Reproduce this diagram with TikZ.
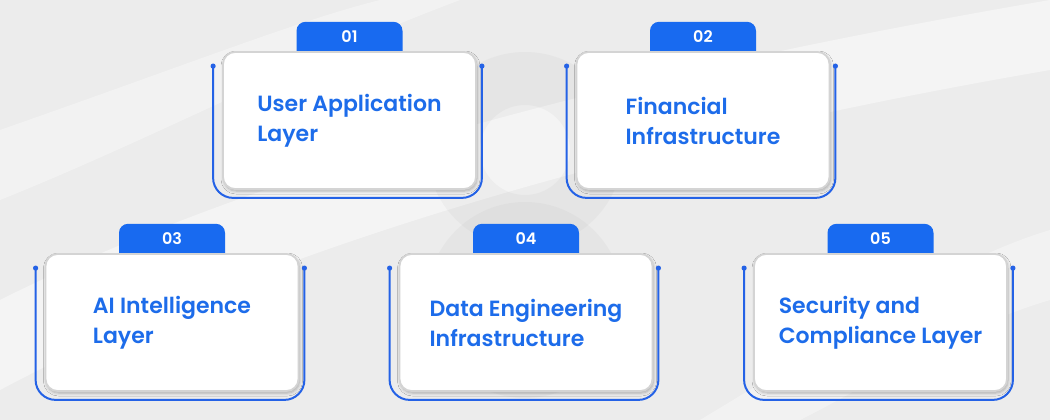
\documentclass[tikz,border=0pt]{standalone}
\usepackage{fontspec}
\setmainfont{Poppins}[BoldFont={Poppins SemiBold}]
\usetikzlibrary{shadows.blur}

\definecolor{tabblue}{RGB}{24,106,240}
\definecolor{textblue}{RGB}{29,108,234}
\definecolor{lineblue}{RGB}{36,98,230}
\definecolor{bggray}{RGB}{236,236,236}

\tikzset{
    tabbox/.style={fill=tabblue, rounded corners=9pt, minimum width=106pt, minimum height=40pt, anchor=south},
    tabnum/.style={text=white, font=\bfseries\fontsize{16}{18}\selectfont},
    cardbox/.style={fill=white, draw={rgb,255:red,212;green,212;blue,212}, line width=1.8pt, rounded corners=12pt,
        minimum width=253pt, minimum height=137pt, align=left, text=textblue,
        font=\bfseries\fontsize{22}{30}\selectfont,
        blur shadow={shadow xshift=1pt, shadow yshift=-2pt, shadow blur radius=3pt, shadow opacity=28}},
    bracket/.style={lineblue, line width=2pt, rounded corners=20pt},
    dot/.style={fill=lineblue}
}

\begin{document}
\begin{tikzpicture}[x=1pt,y=-1pt]
    \useasboundingbox (0,0) rectangle (1050,420);
    \fill[bggray] (0,0) rectangle (1050,420);

    % background swooshes
    \fill[white,opacity=0.45] (0,300) .. controls (300,150) and (700,60) .. (1050,0) -- (1050,70) .. controls (700,130) and (300,230) .. (0,390) -- cycle;
    \fill[white,opacity=0.35] (0,130) .. controls (200,60) and (300,20) .. (380,0) -- (460,0) .. controls (300,60) and (150,140) .. (0,200) -- cycle;
    \fill[white,opacity=0.35] (700,420) .. controls (850,330) and (950,260) .. (1050,230) -- (1050,300) .. controls (950,330) and (880,380) .. (800,420) -- cycle;
    \fill[gray,opacity=0.06,even odd rule] (525,150) circle (98) (525,150) circle (45);
    \fill[gray,opacity=0.06,even odd rule] (525,300) circle (98) (525,300) circle (45);

    \foreach \i/\cx/\cy/\lbl in {1/349.5/120.5/{User Application\\Layer},
                                2/703/120.5/{Financial\\Infrastructure},
                                3/172/322.5/{AI Intelligence\\Layer},
                                4/526/322.5/{Data Engineering\\Infrastructure},
                                5/880.5/322.5/{Security and\\Compliance Layer}} {
        \node[tabbox] (tab\i) at (\cx,\cy-58.5) {};
        \node[tabnum] (num\i) at ([yshift=-15pt]tab\i.north) {0\i};
        \node[cardbox] (card\i) at (\cx,\cy) {\lbl};
        \coordinate (bl\i) at ([xshift=-9pt,yshift=-15pt]card\i.north west);
        \coordinate (br\i) at ([xshift=5pt,yshift=-15pt]card\i.north east);
        \coordinate (bb\i) at ([yshift=-8pt]card\i.south);
        \draw[bracket] (bl\i) -- (bl\i |- bb\i) -- (br\i |- bb\i) -- (br\i);
        \fill[dot] (bl\i) circle (2.6) (br\i) circle (2.6);
    }
\end{tikzpicture}
\end{document}
